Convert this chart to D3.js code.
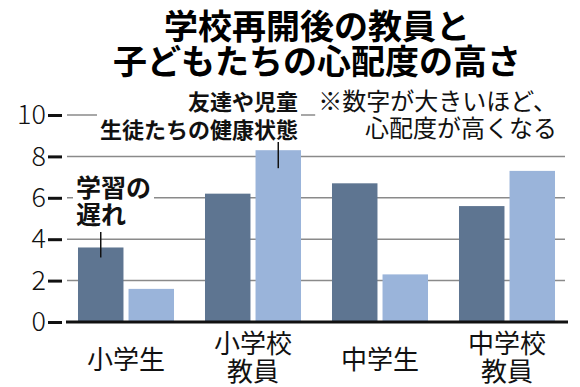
<!DOCTYPE html>
<html>
<head>
<meta charset="utf-8">
<script src="https://cdn.jsdelivr.net/npm/d3@7"></script>
<style>
  body { margin: 0; background: #fff; }
  svg { display: block; font-family: "Noto Sans CJK JP", "Noto Sans", sans-serif; }
</style>
</head>
<body>
<div id="chart"></div>
<script>
const categories = ["小学生", "小学校\n教員", "中学生", "中学校\n教員"];
const series = ["学習の遅れ", "友達や児童生徒たちの健康状態"];
const learningDelay = [3.6, 6.2, 6.7, 5.6];
const healthStatus = [1.6, 8.3, 2.3, 7.3];
const yTicks = [0, 2, 4, 6, 8, 10];

const width = 580, height = 387;
const margin = { top: 115, right: 10, bottom: 65, left: 62 };
const colors = ["#5e7591", "#9ab4da"];

const svg = d3.select("#chart").append("svg")
  .attr("width", width)
  .attr("height", height);

const x0 = d3.scaleBand()
  .domain(categories)
  .range([62.5, 570.5])
  .paddingInner(0.244)
  .paddingOuter(0.122);

const x1 = d3.scaleBand()
  .domain(series)
  .range([0, x0.bandwidth()])
  .paddingInner(0.1);

const y = d3.scaleLinear()
  .domain([0, 10])
  .range([322, 115]);

const values = [learningDelay, healthStatus];

// title
svg.append("g").selectAll("text")
  .data(["学校再開後の教員と", "子どもたちの心配度の高さ"])
  .join("text")
  .attr("x", 317)
  .attr("y", (d, i) => 24 + i * 35)
  .attr("text-anchor", "middle")
  .attr("dominant-baseline", "central")
  .style("font-size", "34px")
  .style("font-weight", "bold")
  .text(d => d);

// gridlines (10 is only a leader towards the notes)
svg.append("g").selectAll("line")
  .data(yTicks.filter(d => d > 0))
  .join("line")
  .attr("x1", 67)
  .attr("x2", d => d === 10 ? 355 : 565)
  .attr("y1", d => y(d))
  .attr("y2", d => y(d))
  .attr("stroke", "#8a8a8a")
  .attr("stroke-width", 1.5);

// y axis: short thick dashes + labels
const yAxis = svg.append("g")
  .attr("transform", `translate(${margin.left},0)`)
  .call(d3.axisLeft(y).tickValues(yTicks).tickSize(14).tickPadding(2));
yAxis.select(".domain").remove();
yAxis.selectAll("line").attr("stroke", "#111").attr("stroke-width", 3);
yAxis.selectAll("text")
  .style("font-family", "'Noto Sans CJK JP', sans-serif")
  .style("font-size", "27px")
  .style("font-weight", 300)
  .attr("fill", "#111");

// bars
const groups = svg.append("g").selectAll("g")
  .data(categories)
  .join("g")
  .attr("transform", d => `translate(${x0(d)},0)`);

groups.selectAll("rect")
  .data((d, ci) => series.map((s, si) => ({ s, si, v: values[si][ci] })))
  .join("rect")
  .attr("x", d => x1(d.s))
  .attr("y", d => y(d.v))
  .attr("width", x1.bandwidth())
  .attr("height", d => y(0) - y(d.v))
  .attr("fill", d => colors[d.si]);

// baseline
svg.append("line")
  .attr("x1", 66).attr("x2", 568)
  .attr("y1", y(0)).attr("y2", y(0))
  .attr("stroke", "#111")
  .attr("stroke-width", 3);

// category labels
svg.append("g").selectAll("text")
  .data(categories)
  .join("text")
  .attr("x", d => x0(d) + x0.bandwidth() / 2)
  .attr("text-anchor", "middle")
  .style("font-size", "26px")
  .attr("fill", "#111")
  .each(function (d) {
    const lines = d.split("\n");
    const top = lines.length === 1 ? 357 : 341;
    d3.select(this).selectAll("tspan")
      .data(lines)
      .join("tspan")
      .attr("x", x0(d) + x0.bandwidth() / 2)
      .attr("y", (l, i) => top + i * 28)
      .attr("dominant-baseline", "central")
      .text(l => l);
  });

// annotations with white knock-out behind
function note(lines, xPos, yStart, lineH, anchor, size, weight) {
  const g = svg.append("g");
  lines.forEach((t, i) => {
    const txt = g.append("text")
      .attr("x", xPos)
      .attr("y", yStart + i * lineH)
      .attr("text-anchor", anchor)
      .attr("dominant-baseline", "central")
      .style("font-size", size + "px")
      .style("font-weight", weight)
      .attr("fill", "#111")
      .text(t);
    const b = txt.node().getBBox();
    g.insert("rect", "text")
      .attr("x", b.x - 3).attr("y", b.y)
      .attr("width", b.width + 6).attr("height", b.height)
      .attr("fill", "#fff");
  });
}

note(["友達や児童", "生徒たちの健康状態"], 298, 100, 28, "end", 22, "bold");
note(["※数字が大きいほど、", "心配度が高くなる"], 557, 99, 27, "end", 24, 400);
note(["学習の", "遅れ"], 76, 186, 27, "start", 25, "bold");

// leader lines to bars
const leaders = [
  { cat: 0, s: 0, top: 232, extra: 10 },
  { cat: 1, s: 1, top: 142, extra: 18 }
];
svg.append("g").selectAll("line")
  .data(leaders)
  .join("line")
  .attr("x1", d => x0(categories[d.cat]) + x1(series[d.s]) + x1.bandwidth() / 2)
  .attr("x2", d => x0(categories[d.cat]) + x1(series[d.s]) + x1.bandwidth() / 2)
  .attr("y1", d => d.top)
  .attr("y2", d => y(values[d.s][d.cat]) + d.extra)
  .attr("stroke", "#111")
  .attr("stroke-width", 1.5);
</script>
</body>
</html>
